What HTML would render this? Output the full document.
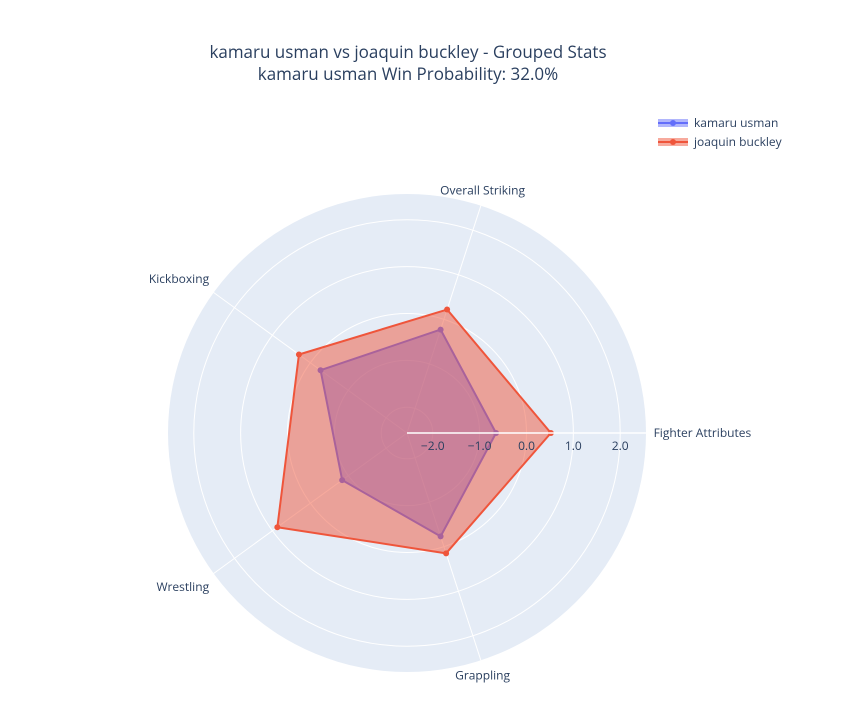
<!DOCTYPE html>
<html>
<head>
<meta charset="utf-8">
<style>
  html, body { margin: 0; padding: 0; background: #fff; }
  svg { display: block; font-family: "Open Sans", "Liberation Sans", sans-serif; }
</style>
</head>
<body>
<svg id="chart" width="848" height="716" viewBox="0 0 848 716">
  <text x="408" y="58" text-anchor="middle" font-size="17" fill="#2a3f5f">kamaru usman vs joaquin buckley - Grouped Stats</text>
  <text x="408" y="80" text-anchor="middle" font-size="17" fill="#2a3f5f">kamaru usman Win Probability: 32.0%</text>
  <g id="polar"></g>
  <g id="legend"></g>
</svg>
<script>
const categories = ["Fighter Attributes", "Overall Striking", "Kickboxing", "Wrestling", "Grappling"];
const seriesNames = ["kamaru usman", "joaquin buckley"];
const usmanValues = [-0.65, -0.23, -0.27, -0.84, -0.23];
const buckleyValues = [0.52, 0.22, 0.30, 0.87, 0.15];
const radialTicks = [-2, -1, 0, 1, 2];
const radialTickLabels = ["\u22122.0", "\u22121.0", "0.0", "1.0", "2.0"];

const NS = "http://www.w3.org/2000/svg";
const cx = 407, cy = 433, R = 239;
const rMin = -2.55, rMax = 2.55;
function rScale(v) { return (v - rMin) / (rMax - rMin) * R; }
function angleFor(i) { return i * 2 * Math.PI / categories.length; }
function pt(i, v) { const a = angleFor(i), r = rScale(v); return [cx + r * Math.cos(a), cy - r * Math.sin(a)]; }
function mk(tag, attrs, parent) { const e = document.createElementNS(NS, tag); for (const k in attrs) e.setAttribute(k, attrs[k]); parent.appendChild(e); return e; }

const g = document.getElementById("polar");
const bg = mk("circle", {cx: cx, cy: cy, r: R, fill: "#e5ecf6"}, g);



radialTicks.forEach((t, i) => {
  const c = mk("circle", {cx: cx, cy: cy, r: rScale(t), fill: "none", stroke: "#fff", "stroke-width": 1}, g);
  
  
});
categories.forEach((cat, i) => {
  const p = pt(i, rMax);
  const l = mk("line", {x1: cx, y1: cy, x2: p[0], y2: p[1], stroke: "#fff", "stroke-width": 1}, g);
  
  
});

function drawSeries(vals, color, fill, name) {
  const pts = vals.map((v, i) => pt(i, v));
  const poly = mk("polygon", {points: pts.map(p => p.join(",")).join(" "), fill: fill, "fill-opacity": 0.5, stroke: color, "stroke-width": 2, "stroke-linejoin": "round"}, g);
  
  
  pts.forEach(p => {
    const c = mk("circle", {cx: p[0], cy: p[1], r: 3, fill: color}, g);
    
    
  });
}
drawSeries(usmanValues, "#636efa", "#636efa", "kamaru-usman");
drawSeries(buckleyValues, "#EF553B", "#EF553B", "joaquin-buckley");

// radial axis line + labels
const ax = mk("line", {x1: cx, y1: cy, x2: cx + R, y2: cy, stroke: "#fff", "stroke-width": 1.5}, g);


radialTicks.forEach((t, i) => {
  const x = cx + rScale(t);
  const tx = mk("text", {x: x, y: cy + 17, "text-anchor": "middle", "font-size": 12, fill: "#2a3f5f"}, g);
  tx.textContent = radialTickLabels[i];
  
  
});

categories.forEach((cat, i) => {
  const a = angleFor(i);
  const p = pt(i, rMax + 0.12);
  const cosA = Math.cos(a), sinA = Math.sin(a);
  let anchor = Math.abs(cosA) < 0.4 ? "middle" : (cosA > 0 ? "start" : "end");
  let dy = sinA > 0.5 ? -6 : (sinA < -0.5 ? 14 : 4);
  const tx = mk("text", {x: p[0] + (anchor === "start" ? 2 : 0), y: p[1] + dy, "text-anchor": anchor, "font-size": 12, fill: "#2a3f5f"}, g);
  tx.textContent = cat;
  
  
});

const lg = document.getElementById("legend");
const legendColors = ["#636efa", "#EF553B"];
seriesNames.forEach((n, i) => {
  const y = 123 + i * 19;
  const r = mk("rect", {x: 658, y: y - 4, width: 30, height: 8, fill: legendColors[i], "fill-opacity": 0.5}, lg);
  
  
  const l = mk("line", {x1: 658, y1: y, x2: 688, y2: y, stroke: legendColors[i], "stroke-width": 2}, lg);
  
  
  const c = mk("circle", {cx: 673, cy: y, r: 3, fill: legendColors[i]}, lg);
  
  
  const t = mk("text", {x: 694, y: y + 4, "font-size": 12, fill: "#2a3f5f"}, lg);
  t.textContent = n;
  
  
});
</script>
</body>
</html>
